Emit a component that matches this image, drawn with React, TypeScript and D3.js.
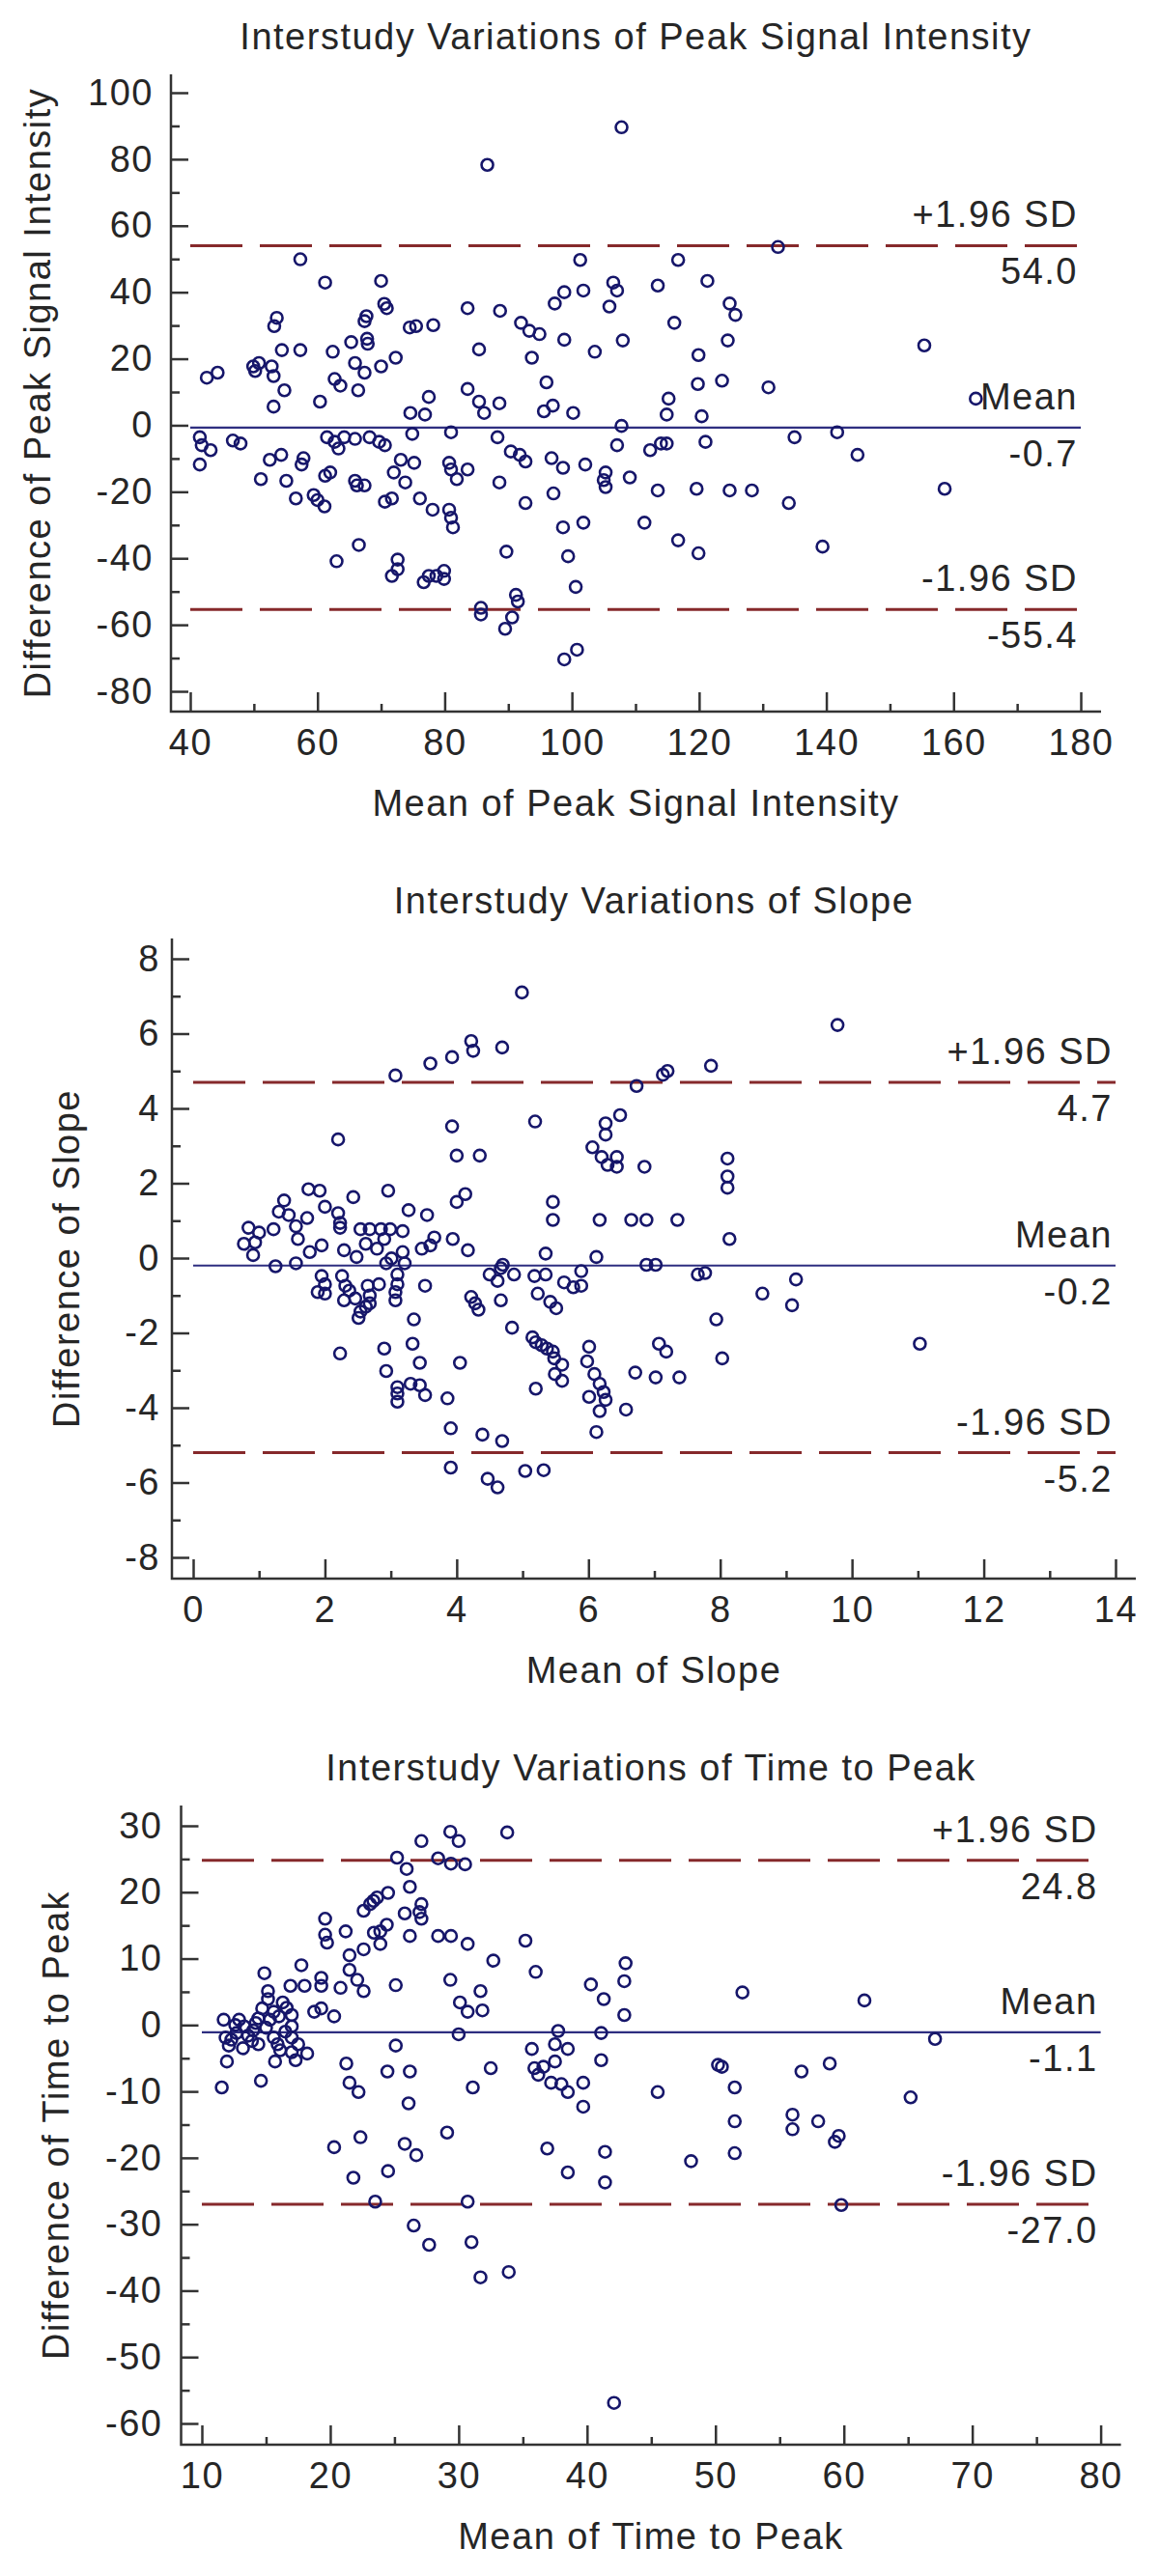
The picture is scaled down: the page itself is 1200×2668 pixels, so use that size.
import React, { useRef, useEffect } from 'react';
import * as d3 from 'd3';

const FONT = '"Liberation Sans", Arial, sans-serif';
const TEXT = '#262626';
const AXIS = '#333333';
const DOT = '#16166a';
const MEAN_LINE = '#2e2e80';
const SD_LINE = '#86292b';

const limitNames = ['+1.96 SD', 'Mean', '-1.96 SD'];

// ---- Peak Signal Intensity: [mean of two studies, difference] ----
const peakPoints: [number, number][] = [
  [86.7, 78.3], [57.3, 49.9], [61.2, 42.9], [70.0, 43.4], [83.6, 35.2], [88.7, 34.4], [70.9, 35.2], [70.5, 36.5],
  [67.7, 32.8], [67.4, 31.3], [53.6, 32.3], [53.2, 29.8], [74.5, 29.4], [75.5, 29.8], [78.2, 30.1], [92.0, 30.8],
  [93.3, 28.4], [94.9, 27.4], [97.3, 36.6], [98.8, 40.0], [98.8, 25.7], [85.4, 22.8], [93.7, 20.3], [54.4, 22.6],
  [57.3, 22.6], [62.4, 22.1], [65.3, 25.0], [67.8, 26.0], [67.9, 24.5], [72.3, 20.3], [70.0, 17.7], [65.9, 18.7],
  [67.4, 15.8], [66.4, 10.5], [63.6, 11.9], [62.7, 13.9], [49.9, 17.7], [50.8, 18.7], [50.2, 16.3], [52.8, 17.7],
  [53.1, 14.8], [54.8, 10.5], [53.1, 5.6], [42.6, 14.3], [44.3, 15.8], [60.4, 7.1], [77.5, 8.5], [74.6, 3.7],
  [76.9, 3.2], [83.6, 10.9], [85.4, 7.1], [86.2, 3.7], [88.6, 6.6], [96.0, 12.9], [97.0, 5.9], [95.6, 4.2],
  [100.2, 3.7], [107.8, 89.6], [132.4, 53.6], [116.7, 49.7], [101.3, 49.7], [121.3, 43.4], [113.5, 42.0],
  [106.5, 42.9], [107.1, 40.5], [101.8, 40.5], [105.9, 35.7], [124.8, 36.6], [125.7, 33.2], [116.1, 30.8],
  [108.0, 25.5], [103.6, 22.1], [124.5, 25.5], [119.9, 21.1], [155.4, 24.0], [119.8, 12.4], [123.6, 13.4],
  [130.9, 11.4], [115.2, 8.0], [114.9, 3.2], [120.4, 2.7], [163.5, 8.0], [107.8, -0.2],
  [41.5, -3.6], [41.8, -6.0], [43.2, -7.5], [41.5, -11.8], [46.7, -4.6], [47.9, -5.5], [52.5, -10.4], [54.3, -8.9],
  [57.8, -9.9], [57.5, -11.8], [51.1, -16.2], [55.1, -16.7], [56.6, -22.0], [59.4, -21.0], [60.0, -22.5],
  [61.1, -24.4], [61.2, -15.2], [62.0, -14.2], [61.5, -3.6], [62.7, -5.0], [63.3, -7.0], [64.2, -3.6], [65.9, -4.1],
  [68.2, -3.6], [70.6, -6.0], [69.7, -5.0], [65.9, -16.7], [66.2, -18.1], [67.4, -18.1], [63.0, -40.9], [66.5, -36.0],
  [70.6, -23.0], [71.7, -22.0], [71.7, -45.3], [72.6, -40.4], [72.6, -43.3], [72.0, -14.2], [73.1, -10.4],
  [73.8, -17.2], [75.2, -11.3], [74.9, -2.6], [76.7, -47.2], [77.5, -45.3], [78.7, -45.3], [79.9, -43.8],
  [79.9, -46.2], [76.1, -22.0], [78.1, -25.4], [80.7, -25.4], [81.0, -27.8], [81.3, -30.7], [80.7, -11.3],
  [81.0, -13.3], [81.9, -16.2], [83.6, -13.3], [81.0, -2.1], [88.3, -3.6], [88.6, -17.2], [89.7, -38.0],
  [85.7, -54.9], [85.7, -56.9], [91.2, -51.0], [91.5, -53.0], [90.6, -57.8], [89.5, -61.2], [90.4, -7.9],
  [91.8, -8.9], [92.7, -10.9], [92.7, -23.4], [96.8, -9.9], [98.6, -12.8], [97.1, -20.5], [98.6, -30.7],
  [99.4, -39.4], [100.6, -48.6], [98.8, -70.4], [100.8, -67.5],
  [107.1, -6.0], [112.3, -7.5], [114.0, -5.5], [114.9, -5.5], [121.0, -5.0], [135.0, -3.6], [141.7, -2.1],
  [144.9, -8.9], [102.1, -11.8], [105.3, -14.2], [105.3, -18.6], [105.0, -16.5], [109.1, -15.7], [113.5, -19.6],
  [119.6, -19.1], [124.8, -19.6], [128.3, -19.6], [134.1, -23.4], [158.6, -19.1], [101.8, -29.3], [111.4, -29.3],
  [116.7, -34.6], [119.9, -38.5], [139.4, -36.5],
];
const peakXTicks = [40, 60, 80, 100, 120, 140, 160, 180];
const peakYTicks = [-80, -60, -40, -20, 0, 20, 40, 60, 80, 100];
const peakLimits = [54.0, -0.7, -55.4];
const peakLimitLabels = ['54.0', '-0.7', '-55.4'];

// ---- Slope ----
const slopePoints: [number, number][] = [
  [4.99, 7.1], [3.07, 4.88], [3.6, 5.2], [3.93, 5.37], [4.22, 5.8], [4.25, 5.54], [4.69, 5.63], [2.2, 3.17],
  [3.93, 3.52], [4.0, 2.74], [4.35, 2.74], [5.19, 3.65], [1.38, 1.54], [1.75, 1.84], [1.92, 1.8], [2.43, 1.63],
  [2.96, 1.8], [4.13, 1.71], [4.0, 1.5], [5.46, 1.5],
  [9.78, 6.23], [7.86, 5.14], [7.13, 4.9], [7.2, 5.0], [6.73, 4.6], [6.48, 3.82], [6.26, 3.6], [6.26, 3.3],
  [6.06, 2.96], [6.2, 2.7], [6.43, 2.7], [6.29, 2.49], [6.43, 2.44], [6.85, 2.44], [8.11, 2.66], [8.11, 2.18],
  [8.11, 1.88],
  [0.77, 0.38], [0.84, 0.81], [0.91, 0.08], [0.94, 0.42], [1.0, 0.68], [1.22, 0.77], [1.25, -0.22], [1.3, 1.24],
  [1.45, 1.15], [1.56, 0.85], [1.59, 0.51], [1.73, 1.07], [1.56, -0.14], [1.77, 0.16], [1.95, 0.34], [2.0, 1.37],
  [2.2, 1.2], [2.23, 0.94], [2.23, 0.81], [2.29, 0.21], [2.48, 0.03], [2.54, 0.77], [2.68, 0.77], [2.85, 0.77],
  [2.99, 0.77], [3.18, 0.72], [2.79, 0.25], [2.9, 0.51], [2.62, 0.38], [2.93, -0.14], [3.01, -0.01], [3.18, 0.16],
  [3.21, -0.14], [3.47, 0.25], [3.6, 0.34], [3.66, 0.55], [3.94, 0.51], [4.17, 0.21], [3.27, 1.28], [3.55, 1.15],
  [1.95, -0.48], [2.0, -0.7], [1.89, -0.91], [2.0, -0.95], [2.26, -0.48], [2.31, -0.74], [2.37, -0.87],
  [2.29, -1.13], [2.46, -1.08], [2.65, -0.74], [2.68, -1.0], [2.82, -0.7], [2.62, -1.3], [2.54, -1.43],
  [2.51, -1.6], [2.68, -1.21], [3.1, -0.44], [3.1, -0.7], [3.07, -0.91], [3.07, -1.13], [3.52, -0.74],
  [4.22, -1.04], [4.28, -1.21], [4.33, -1.38], [4.5, -0.44], [4.62, -0.61], [4.67, -0.27], [4.7, -0.18],
  [4.87, -0.44], [4.67, -1.13], [5.18, -0.48], [5.35, -0.44], [5.35, 0.12], [5.63, -0.65], [5.77, -0.78],
  [5.23, -0.95], [5.42, -1.17], [5.51, -1.34], [5.46, 1.02], [3.35, -1.64], [4.84, -1.86], [2.23, -2.55],
  [2.9, -2.42], [2.93, -3.02], [3.33, -2.29], [3.44, -2.8], [3.1, -3.45], [3.1, -3.62], [3.1, -3.84], [3.3, -3.36],
  [3.44, -3.4], [3.52, -3.66], [3.86, -3.75], [4.05, -2.8], [3.91, -4.55], [4.39, -4.72], [4.69, -4.89],
  [3.91, -5.6], [4.47, -5.9], [4.62, -6.13], [5.04, -5.69], [5.32, -5.67], [5.15, -2.12], [5.2, -2.25],
  [5.29, -2.33], [5.37, -2.42], [5.46, -2.5], [5.48, -2.68], [5.6, -2.85], [5.49, -3.1], [5.6, -3.28], [5.2, -3.49],
  [6.17, 1.02], [6.65, 1.02], [6.88, 1.02], [7.35, 1.02], [8.14, 0.51], [6.12, 0.03], [6.88, -0.18], [7.02, -0.18],
  [7.66, -0.44], [7.77, -0.4], [5.89, -0.35], [5.89, -0.74], [9.15, -0.57], [8.64, -0.95], [9.09, -1.26],
  [7.94, -1.64], [11.03, -2.29], [6.01, -2.37], [5.98, -2.76], [6.09, -3.1], [6.17, -3.36], [6.23, -3.58],
  [6.01, -3.71], [6.26, -3.79], [6.17, -4.09], [6.12, -4.65], [7.07, -2.29], [7.18, -2.5], [8.03, -2.68],
  [6.71, -3.06], [7.02, -3.19], [7.38, -3.19], [6.57, -4.05],
];
const slopeXTicks = [0, 2, 4, 6, 8, 10, 12, 14];
const slopeYTicks = [-8, -6, -4, -2, 0, 2, 4, 6, 8];
const slopeLimits = [4.7, -0.2, -5.2];
const slopeLimitLabels = ['4.7', '-0.2', '-5.2'];

// ---- Time to Peak ----
const ttpPoints: [number, number][] = [
  [33.78, 29.0], [27.1, 27.7], [29.35, 29.1], [30.0, 27.7], [25.2, 25.2], [25.95, 23.5], [28.4, 25.1], [29.4, 24.3],
  [30.5, 24.2], [26.2, 20.8], [24.5, 19.9], [23.65, 19.2], [23.36, 18.7], [22.6, 17.2], [23.1, 18.2], [27.1, 18.2],
  [26.95, 17.0], [27.1, 16.0], [25.8, 16.8], [24.4, 15.1], [23.9, 14.1], [23.4, 13.9], [23.9, 12.2], [22.6, 11.4],
  [26.2, 13.4], [19.6, 16.0], [19.6, 13.6], [19.75, 12.4], [21.2, 14.1], [21.5, 10.5], [21.5, 8.3], [22.1, 6.8],
  [22.6, 5.1], [25.1, 6.0], [28.4, 13.4], [29.4, 13.4], [30.7, 12.2], [32.7, 9.7], [35.2, 12.7], [36.0, 8.0],
  [29.35, 6.8], [31.7, 5.1], [30.1, 3.4], [30.7, 2.0], [31.85, 2.2], [30.0, -1.4], [17.75, 9.0], [14.87, 7.8],
  [15.15, 5.1], [16.9, 5.9], [18.0, 5.9], [19.3, 7.1], [19.3, 5.9], [20.8, 5.6], [18.75, 2.0], [19.3, 2.5],
  [20.3, 1.3], [11.7, 0.8], [11.85, -1.9], [12.1, -3.1], [11.95, -5.5], [11.55, -9.4], [12.6, 0.0], [13.3, -0.2],
  [12.7, -1.2], [13.6, -1.6], [13.9, -2.4], [14.4, 1.0], [14.7, 2.5], [15.15, 3.9], [15.6, 2.0], [16.0, 1.3],
  [16.3, 3.4], [17.0, 1.5], [17.0, -0.2], [15.0, -0.4], [15.6, -1.9], [15.9, -2.9], [16.1, -3.8], [17.0, -1.9],
  [17.5, -2.9], [17.0, -4.1], [17.3, -5.3], [18.2, -4.3], [15.7, -5.5], [14.4, -2.9], [14.6, -8.4],
  [12.3, -2.2], [12.9, 0.8], [14.0, -0.8], [14.2, 0.3], [15.3, 0.8], [16.5, -1.0], [16.6, 2.6], [13.2, -3.5],
  [21.25, -5.8], [21.5, -8.7], [22.2, -10.1], [25.1, -3.1], [24.45, -7.0], [26.2, -7.0], [26.1, -11.8],
  [31.1, -9.4], [32.5, -6.5], [29.1, -16.2], [22.35, -16.9], [20.3, -18.4], [25.8, -17.9], [26.7, -19.6],
  [21.8, -23.0], [24.5, -22.0], [23.5, -26.6], [30.7, -26.6], [37.75, -0.9], [35.7, -3.6], [37.5, -2.9],
  [38.5, -3.6], [37.5, -5.5], [35.9, -6.5], [36.2, -7.5], [36.6, -6.3], [37.2, -8.7], [38.0, -8.9], [38.5, -10.1],
  [36.9, -18.6], [38.5, -22.2],
  [43.0, 9.3], [42.9, 6.6], [42.9, 1.5], [40.3, 6.1], [41.3, 3.9], [41.1, -1.2], [52.1, 4.9], [61.6, 3.7],
  [67.1, -2.1], [41.1, -5.3], [39.7, -8.7], [39.7, -12.3], [50.2, -6.0], [50.5, -6.3], [51.5, -9.4], [45.5, -10.1],
  [56.7, -7.0], [58.9, -5.8], [65.2, -10.9], [51.5, -14.5], [56.0, -13.5], [56.0, -15.7], [58.0, -14.5],
  [59.6, -16.7], [59.3, -17.6], [41.4, -19.1], [48.1, -20.5], [51.5, -19.3], [41.4, -23.7], [59.8, -27.1],
  [26.5, -30.2], [27.7, -33.1], [31.0, -32.7], [31.7, -38.0], [33.9, -37.2], [42.1, -56.9],
];
const ttpXTicks = [10, 20, 30, 40, 50, 60, 70, 80];
const ttpYTicks = [-60, -50, -40, -30, -20, -10, 0, 10, 20, 30];
const ttpLimits = [24.8, -1.1, -27.0];
const ttpLimitLabels = ['24.8', '-1.1', '-27.0'];

const panels = [
  {
    title: 'Interstudy Variations of Peak Signal Intensity',
    xLabel: 'Mean of Peak Signal Intensity',
    yLabel: 'Difference of Peak Signal Intensity',
    points: peakPoints, xTicks: peakXTicks, yTicks: peakYTicks,
    limits: peakLimits, limitLabels: peakLimitLabels,
    xRange: [197, 1119], yRange: [716, 96],
    left: 177, right: 1140, top: 77, bottom: 737, yLabelX: 52, yPad: 18,
  },
  {
    title: 'Interstudy Variations of Slope',
    xLabel: 'Mean of Slope',
    yLabel: 'Difference of Slope',
    points: slopePoints, xTicks: slopeXTicks, yTicks: slopeYTicks,
    limits: slopeLimits, limitLabels: slopeLimitLabels,
    xRange: [200, 1155], yRange: [1613, 993],
    left: 178, right: 1176, top: 972, bottom: 1635, yLabelX: 82, yPad: 12,
  },
  {
    title: 'Interstudy Variations of Time to Peak',
    xLabel: 'Mean of Time to Peak',
    yLabel: 'Difference of Time to Peak',
    points: ttpPoints, xTicks: ttpXTicks, yTicks: ttpYTicks,
    limits: ttpLimits, limitLabels: ttpLimitLabels,
    xRange: [209, 1139.6], yRange: [2510, 1891],
    left: 187.5, right: 1160.6, top: 1870, bottom: 2532, yLabelX: 71, yPad: 19,
  },
];

const midpoints = (ticks: number[]) => d3.pairs(ticks).map(([a, b]) => (a + b) / 2);

function drawPanel(root: any, p: any) {
  const x = d3.scaleLinear().domain(d3.extent(p.xTicks) as any).range(p.xRange);
  const y = d3.scaleLinear().domain(d3.extent(p.yTicks) as any).range(p.yRange);
  const g = root.append('g');
  const fmt = (d: any) => String(d);

  const styleAxis = (sel: any) => {
    sel.attr('font-size', 38).attr('font-family', FONT).attr('color', AXIS);
    sel.select('.domain').remove();
    sel.selectAll('.tick line').attr('stroke-width', 2.5);
    sel.selectAll('.tick text').attr('fill', TEXT);
  };

  // Y axis (ticks point into the plot)
  g.append('g').attr('transform', `translate(${p.left},0)`)
    .call(d3.axisLeft(y).tickValues(p.yTicks).tickSize(-18).tickPadding(p.yPad).tickFormat(fmt))
    .call(styleAxis);
  g.append('g').attr('transform', `translate(${p.left},0)`)
    .call(d3.axisLeft(y).tickValues(midpoints(p.yTicks)).tickSize(-9).tickFormat(() => ''))
    .call(styleAxis);

  // X axis
  g.append('g').attr('transform', `translate(0,${p.bottom})`)
    .call(d3.axisBottom(x).tickValues(p.xTicks).tickSize(-20).tickPadding(18).tickFormat(fmt))
    .call(styleAxis);
  g.append('g').attr('transform', `translate(0,${p.bottom})`)
    .call(d3.axisBottom(x).tickValues(midpoints(p.xTicks)).tickSize(-8).tickFormat(() => ''))
    .call(styleAxis);

  // axis lines
  g.append('path')
    .attr('d', `M${p.left},${p.top}V${p.bottom}H${p.right}`)
    .attr('fill', 'none').attr('stroke', AXIS).attr('stroke-width', 2.5);

  // mean and limits of agreement
  const x0 = x(p.xTicks[0]);
  const x1 = x(p.xTicks[p.xTicks.length - 1]);
  p.limits.forEach((v: number, i: number) => {
    const yy = y(v);
    g.append('line')
      .attr('x1', x0).attr('x2', x1).attr('y1', yy).attr('y2', yy)
      .attr('stroke', i === 1 ? MEAN_LINE : SD_LINE)
      .attr('stroke-width', i === 1 ? 2.2 : 3)
      .attr('stroke-dasharray', i === 1 ? null : '54,18');
    g.append('text').attr('x', x1 - 3).attr('y', yy - 19)
      .attr('text-anchor', 'end').text(limitNames[i]);
    g.append('text').attr('x', x1 - 3).attr('y', yy + 40)
      .attr('text-anchor', 'end').text(p.limitLabels[i]);
  });

  // points
  g.append('g').selectAll('circle')
    .data(p.points)
    .enter().append('circle')
    .attr('cx', (d: any) => x(d[0]))
    .attr('cy', (d: any) => y(d[1]))
    .attr('r', 6)
    .attr('fill', 'none')
    .attr('stroke', DOT)
    .attr('stroke-width', 2.6);

  // titles
  const cx = (p.left + p.right) / 2;
  g.append('text').attr('x', cx).attr('y', p.top - 26)
    .attr('text-anchor', 'middle').text(p.title);
  g.append('text').attr('x', cx).attr('y', p.bottom + 108)
    .attr('text-anchor', 'middle').text(p.xLabel);
  g.append('text')
    .attr('transform', `translate(${p.yLabelX},${(p.top + p.bottom) / 2}) rotate(-90)`)
    .attr('text-anchor', 'middle').text(p.yLabel);
}

export default function App() {
  const svgRef = useRef(null);

  useEffect(() => {
    const svg = d3.select(svgRef.current);
    svg.selectAll('*').remove();
    svg.append('rect').attr('width', 1200).attr('height', 2668).attr('fill', '#ffffff');
    const root = svg.append('g')
      .attr('font-family', FONT)
      .attr('font-size', 38)
      .attr('fill', TEXT)
      .style('letter-spacing', '1.5px');
    panels.forEach((p) => drawPanel(root, p));
    return () => {
      d3.select(svgRef.current).selectAll('*').remove();
    };
  }, []);

  return (
    <svg
      ref={svgRef}
      width={1200}
      height={2668}
      style={{ position: 'absolute', left: 0, top: 0, display: 'block' }}
    />
  );
}
